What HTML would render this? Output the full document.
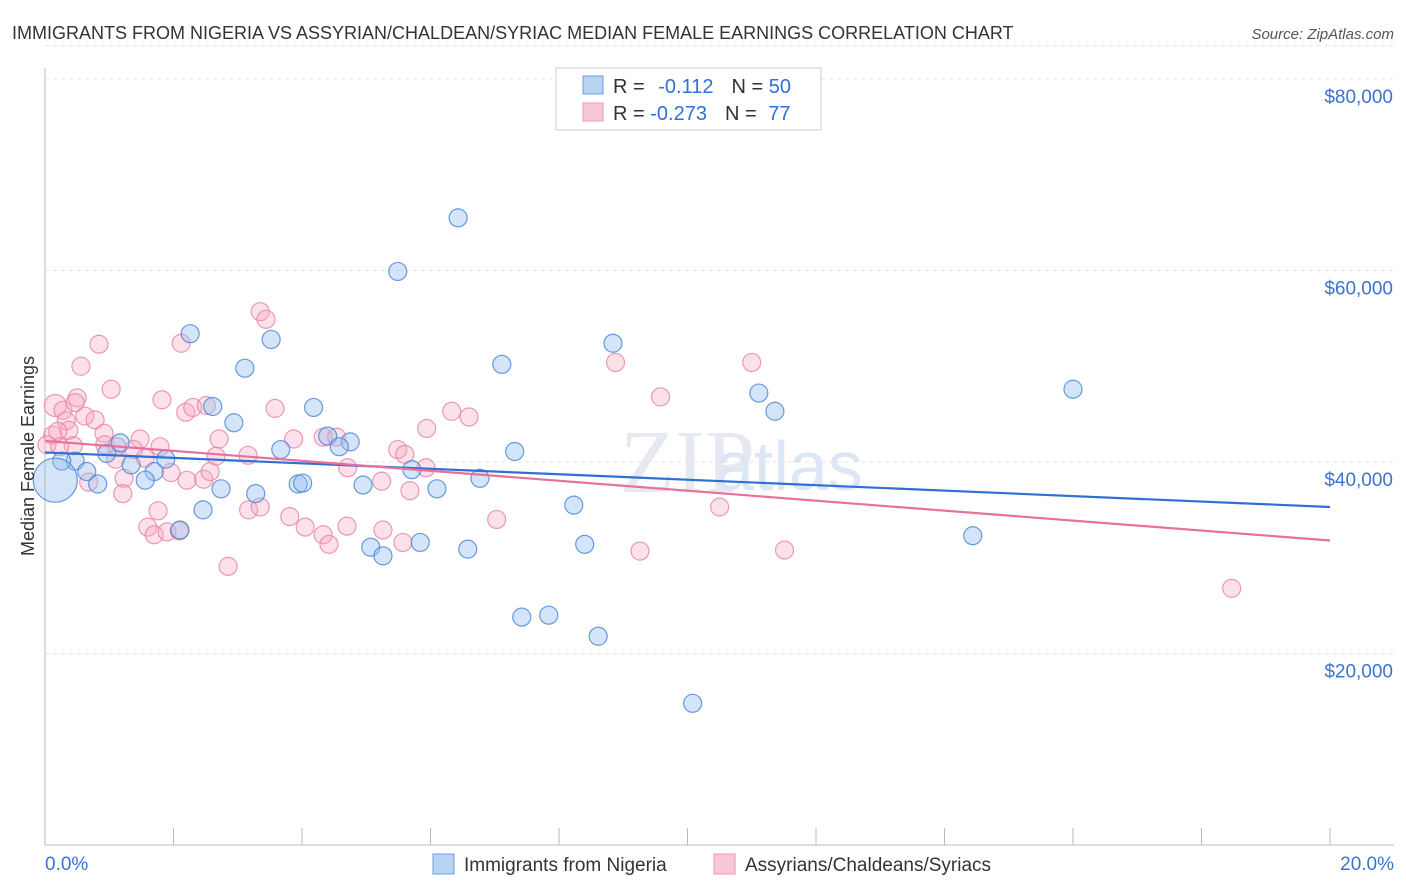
<!DOCTYPE html>
<html><head><meta charset="utf-8"><style>
body{margin:0;background:#fff;font-family:"Liberation Sans",sans-serif;}
#c{position:absolute;left:0;top:0;}
</style></head><body>
<svg id="c" width="1406" height="892">
<text x="12" y="39" font-size="18" fill="#333">IMMIGRANTS FROM NIGERIA VS ASSYRIAN/CHALDEAN/SYRIAC MEDIAN FEMALE EARNINGS CORRELATION CHART</text>
<text x="1394" y="39" font-size="15" fill="#555" font-style="italic" text-anchor="end">Source: ZipAtlas.com</text>
<text x="620" y="492" font-size="90" fill="#e6e9ef" font-family="Liberation Serif">ZIP</text>
<text x="715" y="490" font-size="70" fill="#dce6f5">atlas</text>
<g id="grid"></g><g id="pts"></g><g id="lines"></g>
<text x="34" y="456" font-size="18" fill="#333" text-anchor="middle" transform="rotate(-90 34 456)">Median Female Earnings</text>
<g>
<rect x="556" y="68" width="265" height="62" fill="#fff" stroke="#ccc"/>
<rect x="583" y="76" width="20" height="18" fill="#b9d3f3" stroke="#6a9be0"/>
<rect x="583" y="103" width="20" height="18" fill="#f9c8d6" stroke="#e89ab2"/>
<text x="613" y="93" font-size="20" fill="#333">R = <tspan fill="#2f6fd6" dx="8">-0.112</tspan><tspan fill="#333" dx="18">N = </tspan><tspan fill="#2f6fd6">50</tspan></text>
<text x="613" y="120" font-size="20" fill="#333">R = <tspan fill="#2f6fd6">-0.273</tspan><tspan fill="#333" dx="18">N = </tspan><tspan fill="#2f6fd6" dx="6">77</tspan></text>
</g>
<g>
<rect x="433" y="854" width="21" height="20" fill="#b9d3f3" stroke="#6a9be0"/>
<text x="464" y="871" font-size="19" fill="#333">Immigrants from Nigeria</text>
<rect x="714" y="854" width="21" height="20" fill="#f9c8d6" stroke="#e89ab2"/>
<text x="745" y="871" font-size="19" fill="#333">Assyrians/Chaldeans/Syriacs</text>
</g>
<text x="45" y="870" font-size="19" fill="#3a73d0">0.0%</text>
<text x="1394" y="870" font-size="19" fill="#3a73d0" text-anchor="end">20.0%</text>
</svg>
<script>
const yTicks=[20000,40000,60000,80000];
const yTickLabels=["$20,000","$40,000","$60,000","$80,000"];
const blueX=[2.26,3.52,3.11,5.49,6.43,7.11,8.84,11.11,11.36,16.0,2.61,2.94,4.18,4.40,4.75,1.17,0.96,0.47,0.26,0.65,1.34,1.70,1.88,1.56,0.82,0.16,3.67,4.58,5.71,7.31,6.77,4.95,3.94,4.01,2.74,3.28,6.10,8.23,2.46,2.10,5.07,5.26,5.84,6.58,8.40,14.44,7.42,7.84,8.61,10.08];
const blueY=[53.4,52.8,49.8,59.9,65.5,50.2,52.4,47.2,45.3,47.6,45.8,44.1,45.7,42.7,42.1,42.0,40.9,40.1,40.1,39.0,39.7,39.0,40.3,38.1,37.7,38.1,41.3,41.6,39.2,41.1,38.3,37.6,37.7,37.8,37.2,36.7,37.2,35.5,35.0,32.9,31.1,30.2,31.6,30.9,31.4,32.3,23.8,24.0,21.8,14.8];
const pinkX=[3.35,3.44,2.12,0.84,0.56,1.03,0.50,0.16,0.28,1.82,2.19,2.30,2.51,3.58,0.62,0.78,0.33,0.37,0.12,0.20,0.92,0.44,0.93,1.48,2.71,3.87,4.33,1.38,1.10,1.56,2.66,3.16,1.23,1.96,2.21,2.47,2.57,0.68,1.21,1.76,1.60,1.70,1.90,2.09,2.85,3.17,3.35,3.81,4.05,4.33,4.42,4.70,1.12,4.54,4.71,5.24,5.49,5.60,5.68,5.93,5.94,5.57,5.26,6.33,6.60,7.03,8.88,9.58,10.50,11.00,11.51,18.47,9.26,0.03,0.23,0.47,1.79];
const pinkY=[55.7,54.9,52.4,52.3,50.0,47.6,46.7,45.9,45.4,46.5,45.2,45.7,45.9,45.6,44.8,44.4,44.3,43.3,42.8,43.2,43.0,41.7,41.8,42.4,42.4,42.4,42.6,41.3,40.3,40.4,40.6,40.7,38.3,38.9,38.1,38.2,39.0,37.9,36.7,34.9,33.2,32.4,32.7,32.8,29.1,35.0,35.3,34.3,33.2,32.4,31.4,33.3,41.6,42.6,39.4,38.0,41.3,40.8,37.0,39.4,43.5,31.6,32.9,45.3,44.7,34.0,50.4,46.8,35.3,50.4,30.8,26.8,30.7,41.8,41.6,46.2,41.6];
const blueTrend=[41.0,35.3];
const pinkTrend=[42.2,31.8];
const NS="http://www.w3.org/2000/svg";
const X=p=>45+p/20*1285, Y=k=>845-k*1000/20000*191.5;
function mk(t,a,p){const e=document.createElementNS(NS,t);for(const k in a)e.setAttribute(k,a[k]);p.appendChild(e);return e;}
const grid=document.getElementById('grid');
mk('line',{x1:45,y1:68,x2:45,y2:845,stroke:'#bbb'},grid);
mk('line',{x1:45,y1:845,x2:1394,y2:845,stroke:'#bbb'},grid);
mk('line',{x1:45,y1:Y(83.5),x2:1394,y2:Y(83.5),stroke:'#e4e4e4','stroke-dasharray':'4,4'},grid);
yTicks.forEach((v,i)=>{const y=Y(v/1000);
 const l=mk('line',{x1:45,y1:y,x2:1394,y2:y,stroke:'#e4e4e4','stroke-dasharray':'4,4'},grid);
 
 
 const t=mk('text',{x:1393,y:y+24,'font-size':19,fill:'#3a73d0','text-anchor':'end'},grid);
 t.textContent=yTickLabels[i];
 
 });
for(let i=1;i<=10;i++){const x=X(i*2);const t=mk('line',{x1:x,y1:828,x2:x,y2:845,stroke:'#bbb'},grid);
 
 }
const pts=document.getElementById('pts');
pinkX.forEach((x,i)=>{const c=mk('circle',{cx:X(x),cy:Y(pinkY[i]),r:i==7?11:9,fill:'rgba(246,170,195,0.35)',stroke:'rgba(232,130,162,0.8)','stroke-width':1.2},pts);
 
 });
blueX.forEach((x,i)=>{const c=mk('circle',{cx:X(x),cy:Y(blueY[i]),r:i==25?22:9,fill:'rgba(150,190,240,0.4)',stroke:'rgba(70,130,215,0.8)','stroke-width':1.2},pts);
 
 });
const lines=document.getElementById('lines');
const bl=mk('line',{x1:X(0),y1:Y(blueTrend[0]),x2:X(20),y2:Y(blueTrend[1]),stroke:'#2f6fd6','stroke-width':2.2},lines);


const pl=mk('line',{x1:X(0),y1:Y(pinkTrend[0]),x2:X(20),y2:Y(pinkTrend[1]),stroke:'#e8709a','stroke-width':2.2},lines);


</script>
</body></html>
